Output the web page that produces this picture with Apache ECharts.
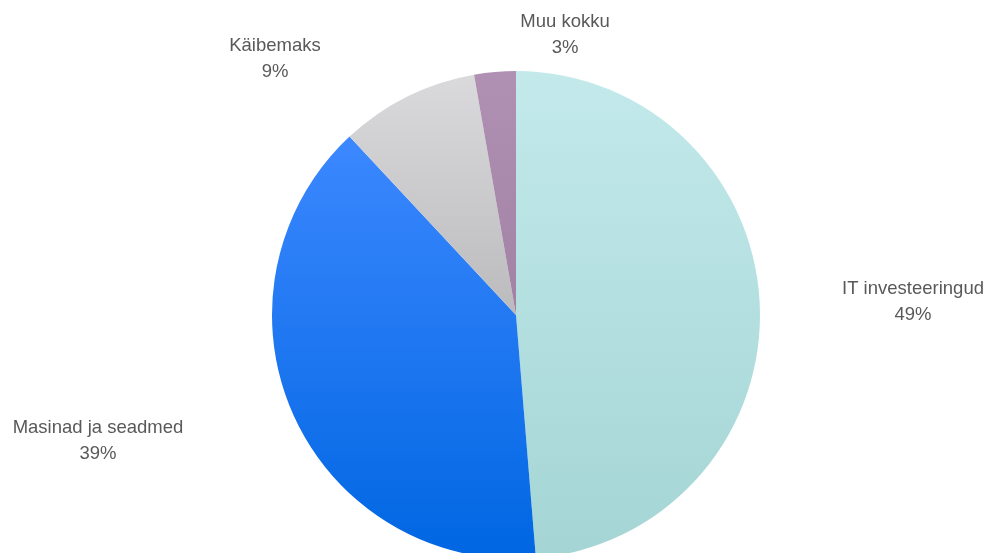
<!DOCTYPE html>
<html>
<head>
<meta charset="utf-8">
<script src="https://cdn.jsdelivr.net/npm/echarts@6/dist/echarts.min.js"></script>
<style>html,body{margin:0;padding:0;background:#fff}#c{width:987px;height:553px}</style>
</head>
<body>
<div id="c"></div>
<script>
// Categories in clockwise order from 12 o'clock
const categories = ['IT investeeringud', 'Masinad ja seadmed', 'Käibemaks', 'Muu kokku'];
// Slice sizes (percent)
const sliceValues = [48.7, 39.35, 9.2, 2.75];
// Percent labels as printed on the chart
const percentLabels = ['49%', '39%', '9%', '3%'];

const topColors = ['#c3e9eb', '#3c88ff', '#dadadc', '#b191b3'];
const bottomColors = ['#a4d5d4', '#0066e2', '#bbbbbd', '#a282a4'];
const labelCenters = [[913, 302], [98, 441], [275, 59], [565, 35]];

const chart = echarts.init(document.getElementById('c'));
chart.setOption({
  animation: false,
  series: [{
    type: 'pie',
    center: [516, 315],
    radius: [0, 244],
    startAngle: 90,
    clockwise: true,
    label: {
      show: true,
      position: 'outside',
      formatter: p => p.name + '\n' + percentLabels[p.dataIndex],
      fontFamily: 'Liberation Sans',
      fontSize: 18.5,
      lineHeight: 26,
      color: '#595959',
      align: 'center'
    },
    labelLine: { show: false },
    labelLayout: function (params) {
      const c = labelCenters[params.dataIndex];
      return { x: c[0], y: c[1], align: 'center', verticalAlign: 'middle', hideOverlap: false };
    },
    itemStyle: { borderWidth: 0 },
    data: categories.map((n, i) => ({
      name: n,
      value: sliceValues[i],
      itemStyle: {
        color: new echarts.graphic.LinearGradient(0, 0, 0, 1, [
          { offset: 0, color: topColors[i] },
          { offset: 1, color: bottomColors[i] }
        ])
      }
    }))
  }]
});
</script>
</body>
</html>
